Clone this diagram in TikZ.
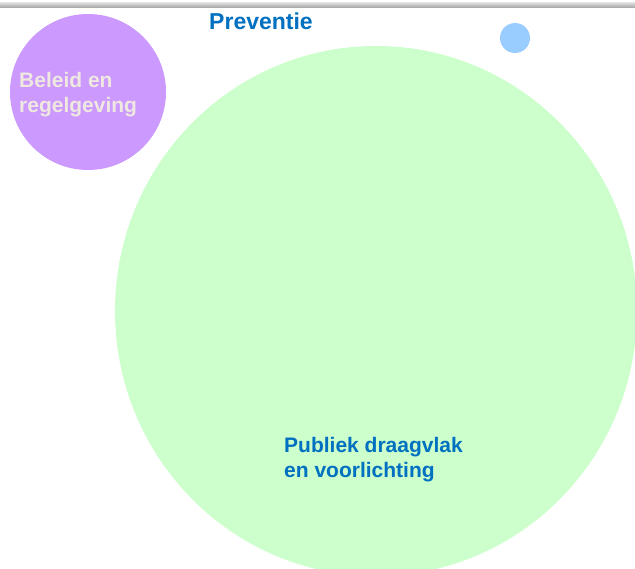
\documentclass[tikz,border=0pt]{standalone}
\usepackage{fontspec}
\usetikzlibrary{shapes.geometric}
\setmainfont{Liberation Sans}
\definecolor{purplec}{HTML}{CC99FF}
\definecolor{greenc}{HTML}{CCFFCC}
\definecolor{bluec}{HTML}{99CCFF}
\definecolor{textblue}{HTML}{0070C0}
\definecolor{textlight}{HTML}{EEE8E0}
\begin{document}
\begin{tikzpicture}[x=1bp,y=-1bp,
  blob/.style={circle,inner sep=0pt,draw=none},
  lbl/.style={font=\bfseries\fontsize{21bp}{25bp}\selectfont,align=left,anchor=north west,inner sep=0pt}]
\useasboundingbox (0,0) rectangle (635,569);
\fill[white] (0,0) rectangle (635,569);
% top bar
\shade[top color=gray!30,bottom color=gray!70] (0,3) rectangle (635,7.5);
% circles
\node[ellipse,inner sep=0pt,draw=none,fill=greenc,minimum width=522bp,minimum height=530bp] (publiek) at (376,311) {};
\node[blob,fill=purplec,minimum size=156bp] (beleid) at (88,92) {};
\node[blob,fill=bluec,minimum size=30bp] (klein) at (515,38) {};
% labels
\node[font=\bfseries\fontsize{23bp}{27bp}\selectfont,text=textblue,inner sep=0pt] (prev) at (261,21) {Preventie};
\node[lbl,text=textlight] (beleidtxt) at (19,72) {Beleid en\\regelgeving};
\node[lbl,text=textblue] (publiektxt) at (284,437) {Publiek draagvlak\\en voorlichting};
\end{tikzpicture}
\end{document}
